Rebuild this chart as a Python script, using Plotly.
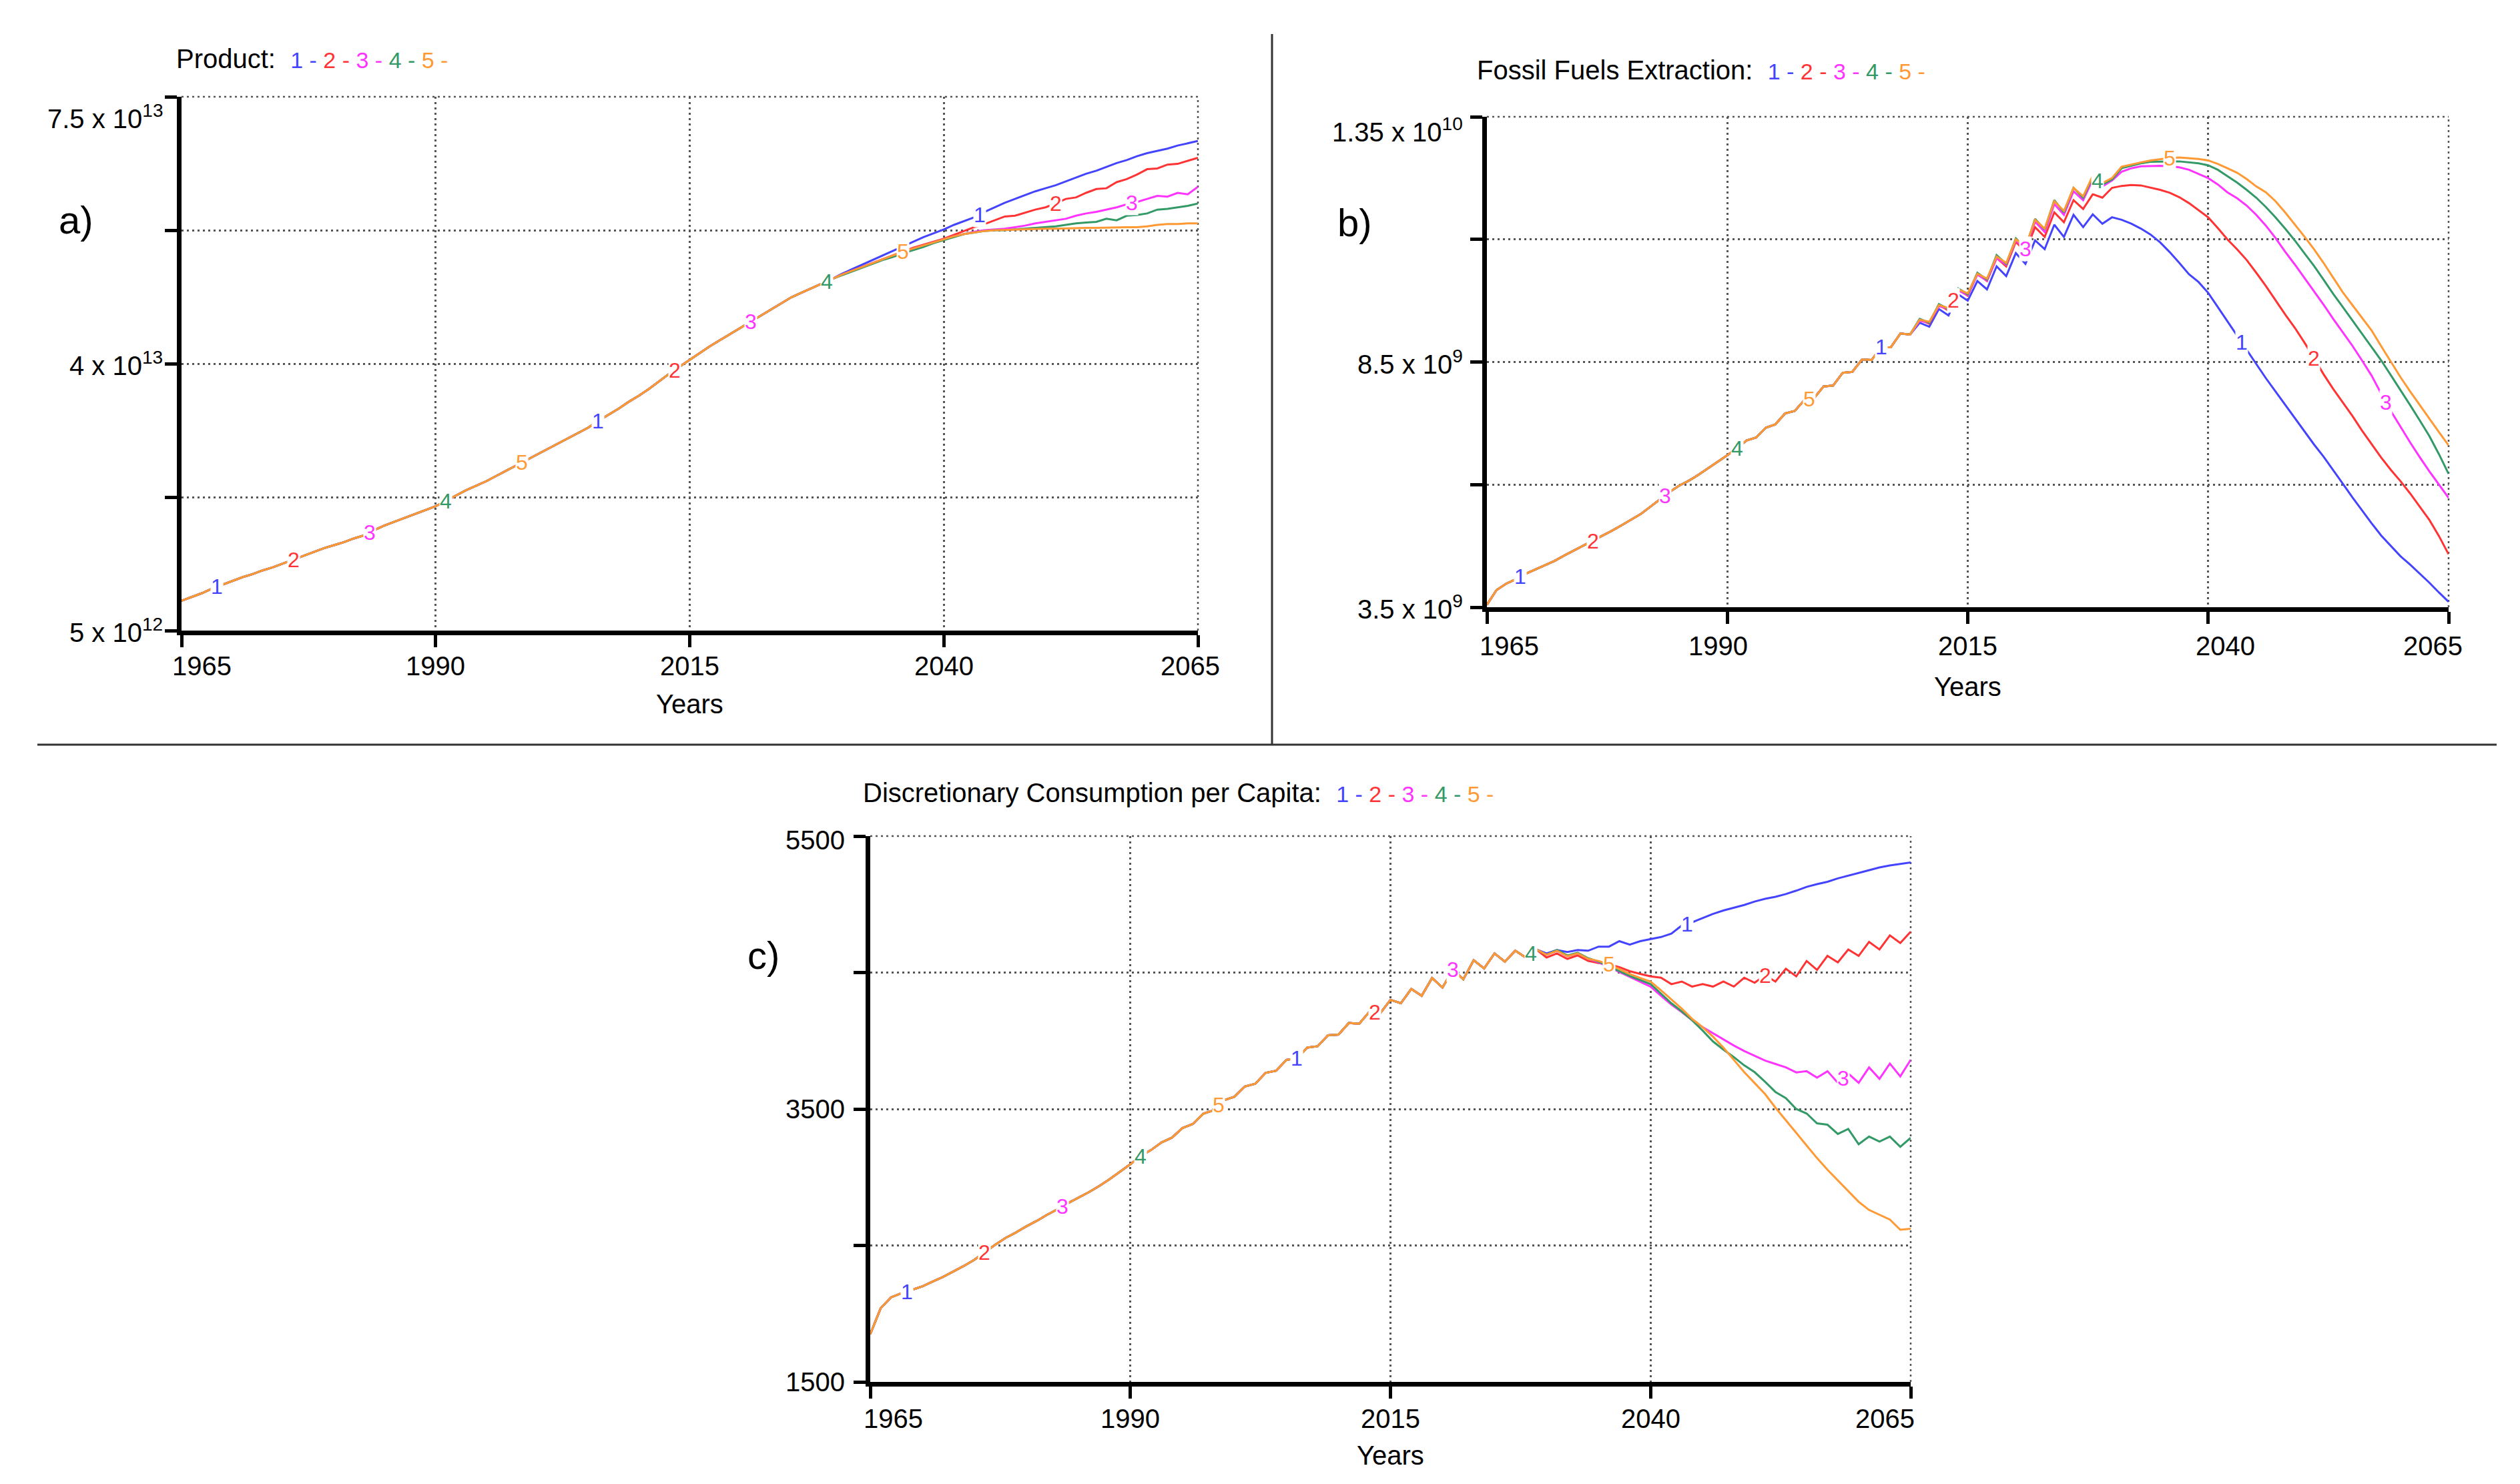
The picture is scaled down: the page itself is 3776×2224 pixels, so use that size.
import numpy as np
import plotly.graph_objects as go

YEARS = list(range(1965, 2066))
SERIES = ["1", "2", "3", "4", "5"]
COLORS = ["#4444ff", "#ff3333", "#ff33ff", "#339966", "#ff9933"]
X_TICKS = [1965, 1990, 2015, 2040, 2065]

# ---------------- Panel a: Product (units of 1e13), common 1965-2029 ----------------
A_COMMON = [0.89, 0.94, 0.99, 1.05, 1.10, 1.15, 1.20, 1.24, 1.29, 1.33,
            1.38, 1.43, 1.48, 1.53, 1.58, 1.62, 1.66, 1.71, 1.75, 1.82,
            1.88, 1.93, 1.98, 2.03, 2.08, 2.13, 2.20, 2.27, 2.34, 2.40,
            2.46, 2.53, 2.60, 2.67, 2.74, 2.81, 2.88, 2.95, 3.02, 3.09,
            3.16, 3.25, 3.33, 3.41, 3.50, 3.58, 3.67, 3.77, 3.87, 3.96,
            4.05, 4.14, 4.23, 4.31, 4.39, 4.47, 4.55, 4.63, 4.71, 4.79,
            4.87, 4.93, 4.99, 5.05, 5.11]
# 2030-2065 per run
A_TAIL_1 = [5.18, 5.24, 5.30, 5.36, 5.42, 5.48, 5.54, 5.60, 5.66, 5.71,
            5.76, 5.82, 5.87, 5.92, 5.99, 6.05, 6.11, 6.16, 6.21, 6.26,
            6.30, 6.34, 6.39, 6.44, 6.49, 6.53, 6.58, 6.63, 6.67, 6.72,
            6.76, 6.79, 6.82, 6.86, 6.89, 6.92]
A_TAIL_2 = [5.17, 5.22, 5.27, 5.32, 5.37, 5.42, 5.47, 5.52, 5.56, 5.60,
            5.64, 5.69, 5.74, 5.79, 5.83, 5.88, 5.93, 5.94, 5.98, 6.02,
            6.05, 6.10, 6.16, 6.18, 6.24, 6.29, 6.30, 6.38, 6.42, 6.48,
            6.55, 6.56, 6.61, 6.62, 6.66, 6.70]
A_TAIL_3 = [5.17, 5.22, 5.27, 5.32, 5.37, 5.42, 5.47, 5.51, 5.55, 5.59,
            5.63, 5.67, 5.70, 5.73, 5.75, 5.76, 5.77, 5.79, 5.81, 5.84,
            5.86, 5.88, 5.90, 5.94, 5.97, 5.99, 6.02, 6.05, 6.09, 6.12,
            6.16, 6.20, 6.19, 6.24, 6.22, 6.32]
A_TAIL_4 = [5.16, 5.21, 5.26, 5.31, 5.36, 5.40, 5.45, 5.49, 5.53, 5.58,
            5.62, 5.66, 5.70, 5.72, 5.74, 5.75, 5.75, 5.76, 5.77, 5.78,
            5.79, 5.80, 5.82, 5.84, 5.85, 5.86, 5.90, 5.88, 5.94, 5.95,
            5.97, 6.02, 6.03, 6.05, 6.07, 6.10]
A_TAIL_5 = [5.17, 5.22, 5.27, 5.32, 5.37, 5.42, 5.47, 5.51, 5.55, 5.59,
            5.63, 5.67, 5.70, 5.72, 5.74, 5.75, 5.755, 5.76, 5.76, 5.765,
            5.77, 5.77, 5.775, 5.78, 5.78, 5.78, 5.785, 5.79, 5.79, 5.79,
            5.80, 5.82, 5.83, 5.83, 5.84, 5.84]

# ---------------- Panel b: Fossil Fuels Extraction (units of 1e9), common 1965-2009 ----------------
B_COMMON = [3.55, 3.85, 3.98, 4.07, 4.18, 4.27, 4.35, 4.44, 4.55, 4.65,
            4.75, 4.85, 4.95, 5.06, 5.17, 5.28, 5.40, 5.55, 5.70, 5.85,
            5.98, 6.08, 6.20, 6.33, 6.46, 6.60, 6.74, 6.90, 6.96, 7.16,
            7.23, 7.45, 7.50, 7.72, 7.76, 8.00, 8.02, 8.28, 8.30, 8.55,
            8.54, 8.80, 8.80, 9.08, 9.06]
# 2010-2065 per run
B_TAIL_1 = [9.30, 9.22, 9.58, 9.45, 9.88, 9.75, 10.15, 9.98, 10.45, 10.25,
            10.72, 10.50, 10.98, 10.80, 11.30, 11.05, 11.50, 11.25, 11.51, 11.32,
            11.45, 11.40, 11.32, 11.22, 11.10, 10.94, 10.74, 10.52, 10.29, 10.13,
            9.91, 9.62, 9.33, 9.04, 8.75, 8.46, 8.17, 7.90, 7.63, 7.35,
            7.08, 6.82, 6.57, 6.30, 6.02, 5.74, 5.47, 5.21, 4.96, 4.75,
            4.54, 4.37, 4.19, 4.00, 3.80, 3.61]
B_TAIL_2 = [9.36, 9.28, 9.66, 9.55, 9.98, 9.85, 10.30, 10.15, 10.62, 10.45,
            10.95, 10.75, 11.25, 11.05, 11.55, 11.35, 11.80, 11.62, 11.92, 11.85,
            12.05, 12.09, 12.11, 12.10, 12.06, 12.01, 11.95, 11.86, 11.74, 11.60,
            11.45, 11.23, 11.00, 10.80, 10.58, 10.32, 10.05, 9.76, 9.47, 9.20,
            8.90, 8.58, 8.25, 7.95, 7.67, 7.40, 7.10, 6.82, 6.55, 6.30,
            6.07, 5.82, 5.55, 5.28, 4.95, 4.58]
B_TAIL_3 = [9.34, 9.30, 9.64, 9.58, 9.96, 9.86, 10.28, 10.16, 10.62, 10.48,
            10.98, 10.80, 11.36, 11.15, 11.72, 11.50, 11.98, 11.80, 12.22, 12.08,
            12.20, 12.38, 12.45, 12.49, 12.50, 12.50, 12.49, 12.47, 12.42, 12.34,
            12.25, 12.12, 11.96, 11.84, 11.69, 11.50, 11.28, 11.03, 10.75, 10.49,
            10.22, 9.95, 9.67, 9.38, 9.10, 8.83, 8.53, 8.22, 7.85, 7.50,
            7.18, 6.86, 6.56, 6.27, 6.00, 5.73]
B_TAIL_4 = [9.38, 9.30, 9.68, 9.58, 10.00, 9.88, 10.32, 10.18, 10.68, 10.50,
            11.02, 10.82, 11.42, 11.20, 11.80, 11.55, 12.05, 11.85, 12.28, 12.12,
            12.22, 12.45, 12.50, 12.55, 12.58, 12.59, 12.59, 12.59, 12.57, 12.55,
            12.51, 12.42, 12.29, 12.16, 12.01, 11.85, 11.66, 11.45, 11.22, 10.98,
            10.72, 10.46, 10.18, 9.89, 9.62, 9.35, 9.08, 8.81, 8.53, 8.23,
            7.93, 7.62, 7.31, 6.99, 6.62, 6.22]
B_TAIL_5 = [9.36, 9.32, 9.66, 9.60, 9.98, 9.90, 10.30, 10.20, 10.65, 10.52,
            11.00, 10.85, 11.40, 11.22, 11.78, 11.58, 12.05, 11.88, 12.30, 12.15,
            12.25, 12.48, 12.53, 12.57, 12.61, 12.64, 12.66, 12.67, 12.66, 12.64,
            12.61, 12.54, 12.45, 12.36, 12.23, 12.08, 11.96, 11.78, 11.55, 11.31,
            11.06, 10.80, 10.52, 10.22, 9.92, 9.66, 9.40, 9.14, 8.82, 8.50,
            8.19, 7.90, 7.62, 7.35, 7.07, 6.80]

# ---------------- Panel c: Discretionary Consumption per Capita, common 1965-2029 ----------------
C_COMMON = [1850, 2040, 2120, 2150, 2175, 2200, 2235, 2270, 2310, 2350,
            2395, 2450, 2505, 2555, 2595, 2640, 2680, 2725, 2765, 2810,
            2850, 2890, 2935, 2985, 3040, 3095, 3155, 3200, 3255, 3290,
            3360, 3390, 3465, 3490, 3565, 3590, 3665, 3685, 3765, 3780,
            3860, 3870, 3950, 3960, 4040, 4045, 4130, 4125, 4215, 4200,
            4300, 4275, 4380, 4330, 4460, 4390, 4520, 4450, 4590, 4530,
            4640, 4580, 4660, 4610, 4670]
# 2030-2065 per run
C_TAIL_1 = [4640, 4665, 4650, 4665, 4660, 4690, 4690, 4730, 4705, 4730,
            4745, 4760, 4785, 4845, 4868, 4900, 4930, 4955, 4975, 4995,
            5020, 5040, 5055, 5075, 5100, 5128, 5148, 5165, 5190, 5210,
            5230, 5250, 5270, 5285, 5295, 5307]
C_TAIL_2 = [4610, 4640, 4600, 4625, 4585, 4570, 4560, 4540, 4510, 4490,
            4472, 4462, 4415, 4434, 4397, 4415, 4397, 4434, 4397, 4462,
            4425, 4480, 4434, 4528, 4472, 4585, 4519, 4622, 4575, 4669,
            4622, 4725, 4669, 4772, 4716, 4800]
C_TAIL_3 = [4630, 4660, 4620, 4640, 4600, 4575, 4540, 4505, 4470, 4435,
            4397, 4330, 4265, 4210, 4150, 4100, 4055, 4010, 3965, 3925,
            3890, 3855, 3830, 3805, 3768, 3777, 3730, 3777, 3692, 3760,
            3692, 3805, 3721, 3833, 3739, 3861]
C_TAIL_4 = [4630, 4665, 4625, 4645, 4605, 4580, 4545, 4510, 4475, 4445,
            4415, 4345, 4275, 4215, 4150, 4075, 3995, 3935, 3880, 3820,
            3770, 3700, 3625, 3580, 3500, 3467, 3395, 3385, 3317, 3354,
            3242, 3298, 3261, 3298, 3223, 3289]
C_TAIL_5 = [4630, 4660, 4620, 4640, 4600, 4585, 4560, 4525, 4490, 4460,
            4434, 4370, 4303, 4235, 4160, 4100, 4030, 3950, 3860, 3770,
            3690, 3610, 3510, 3420, 3325, 3232, 3140, 3055, 2975, 2895,
            2820, 2760, 2725, 2690, 2615, 2622]

A_RUNS = [[v * 1e13 for v in A_COMMON + t] for t in (A_TAIL_1, A_TAIL_2, A_TAIL_3, A_TAIL_4, A_TAIL_5)]
B_RUNS = [[v * 1e9 for v in B_COMMON + t] for t in (B_TAIL_1, B_TAIL_2, B_TAIL_3, B_TAIL_4, B_TAIL_5)]
C_RUNS = [C_COMMON + t for t in (C_TAIL_1, C_TAIL_2, C_TAIL_3, C_TAIL_4, C_TAIL_5)]

# Years where the run numbers are written on the curves (cycling 1..5)
LABEL_YEARS = [1968.5, 1976, 1983.5, 1991, 1998.5, 2006, 2013.5, 2021, 2028.5, 2036, 2043.5, 2051, 2058.5]

A_YTICKS = [5e12, 2.25e13, 4e13, 5.75e13, 7.5e13]
A_YLABELS = ["5 x 10<sup>12</sup>", "", "4 x 10<sup>13</sup>", "", "7.5 x 10<sup>13</sup>"]
B_YTICKS = [3.5e9, 6e9, 8.5e9, 11e9, 13.5e9]
B_YLABELS = ["3.5 x 10<sup>9</sup>", "", "8.5 x 10<sup>9</sup>", "", "1.35 x 10<sup>10</sup>"]
C_YTICKS = [1500, 2500, 3500, 4500, 5500]
C_YLABELS = ["1500", "", "3500", "", "5500"]

TITLES = ["Product:", "Fossil Fuels Extraction:", "Discretionary Consumption per Capita:"]
PANEL_TAGS = ["a)", "b)", "c)"]

W, H = 3776, 2224
FONT = "Liberation Sans, Arial, sans-serif"
GRID_COLOR = "#555555"
GRID_DASH = "3px,5px"

# plot-area pixel boxes (left, right, top, bottom)
BOXES = [(264, 1787, 137, 937), (2220, 3661, 167, 902), (1296, 2855, 1245, 2063)]
XLAB_SHIFT = [[30, 0, 0, 0, -12], [33, -14, 0, 26, -24], [34, 0, 0, 0, -39]]
YLAB_TOPSHIFT = [-30, -20, -6]
YLAB_XSHIFT = [-26, -34, -36]
XLAB_DY = [53, 58, 55]
YEARS_DY = [110, 119, 110]
TITLE_POS = [(254, 80), (2203, 97), (1283, 1180)]
TAG_POS = [(106, 321), (2022, 326), (1136, 1423)]

fig = go.Figure()
annotations = []
shapes = []
panels = [(A_RUNS, A_YTICKS, A_YLABELS), (B_RUNS, B_YTICKS, B_YLABELS), (C_RUNS, C_YTICKS, C_YLABELS)]

for p, (runs, yt, yl) in enumerate(panels):
    sfx = "" if p == 0 else str(p + 1)
    xa, ya = "x" + sfx, "y" + sfx
    for s, vals in enumerate(runs):
        fig.add_trace(go.Scatter(x=YEARS, y=vals, mode="lines", xaxis=xa, yaxis=ya,
                                 line=dict(color=COLORS[s], width=3), showlegend=False,
                                 hoverinfo="skip"))
    l, r, t, b = BOXES[p]
    axis_common = dict(showline=True, linewidth=7, linecolor="black", ticks="outside",
                       ticklen=18, tickwidth=5, tickcolor="black", showticklabels=False,
                       showgrid=True, gridcolor=GRID_COLOR, gridwidth=2.5, griddash=GRID_DASH,
                       zeroline=False, fixedrange=True, layer="above traces")
    fig.layout["xaxis" + sfx] = dict(axis_common, domain=[l / W, r / W], range=[1965, 2065],
                                     tickvals=X_TICKS, anchor=ya)
    fig.layout["yaxis" + sfx] = dict(axis_common, domain=[1 - b / H, 1 - t / H],
                                     range=[yt[0], yt[-1]], tickvals=yt, anchor=xa)
    # dotted top and right frame (grid lines at the range ends)
    shapes.append(dict(type="line", xref=xa + " domain", yref=ya + " domain", x0=0, x1=1, y0=1, y1=1,
                       line=dict(color=GRID_COLOR, width=2.5, dash=GRID_DASH), layer="below"))
    shapes.append(dict(type="line", xref=xa + " domain", yref=ya + " domain", x0=1, x1=1, y0=0, y1=1,
                       line=dict(color=GRID_COLOR, width=2.5, dash=GRID_DASH), layer="below"))
    # x tick labels
    for i, xv in enumerate(X_TICKS):
        annotations.append(dict(x=xv, y=0, xref=xa, yref=ya + " domain", text=str(xv),
                                showarrow=False, xanchor="center", yanchor="middle",
                                xshift=XLAB_SHIFT[p][i], yshift=-XLAB_DY[p],
                                font=dict(family=FONT, size=40, color="black")))
    # y tick labels
    for i, (yv, txt) in enumerate(zip(yt, yl)):
        if not txt:
            continue
        annotations.append(dict(x=1965, y=yv, xref=xa, yref=ya, text=txt, showarrow=False,
                                xanchor="right", yanchor="middle", xshift=YLAB_XSHIFT[p],
                                yshift=YLAB_TOPSHIFT[p] if i == len(yt) - 1 else 0,
                                font=dict(family=FONT, size=40, color="black")))
    # axis title
    annotations.append(dict(x=2015, y=0, xref=xa, yref=ya + " domain", text="Years",
                            showarrow=False, xanchor="center", yanchor="middle",
                            yshift=-YEARS_DY[p], font=dict(family=FONT, size=40, color="black")))
    # title with run legend
    legend = " ".join(f"<span style='color:{COLORS[s]}'>{SERIES[s]} -</span>" for s in range(5))
    tx, ty = TITLE_POS[p]
    annotations.append(dict(x=tx / W, y=1 - ty / H, xref="paper", yref="paper",
                            text=f"{TITLES[p]}  <span style='font-size:34px'>{legend}</span>",
                            showarrow=False, xanchor="left", yanchor="middle",
                            font=dict(family=FONT, size=40, color="black")))
    gx, gy = TAG_POS[p]
    annotations.append(dict(x=gx / W, y=1 - gy / H, xref="paper", yref="paper", text=PANEL_TAGS[p],
                            showarrow=False, xanchor="center", yanchor="middle",
                            font=dict(family=FONT, size=58, color="black")))
    # run numbers written on the curves
    for k, ly in enumerate(LABEL_YEARS):
        s = k % 5
        yv = float(np.interp(ly, YEARS, runs[s]))
        annotations.append(dict(x=ly, y=yv, xref=xa, yref=ya, text=SERIES[s], showarrow=False,
                                xanchor="center", yanchor="middle", bgcolor="white", borderpad=0,
                                font=dict(family=FONT, size=32, color=COLORS[s])))

shapes += [
    dict(type="line", xref="paper", yref="paper", x0=1898 / W, x1=1898 / W,
         y0=1 - 43 / H, y1=1 - 1108 / H, line=dict(color="#333333", width=3)),
    dict(type="line", xref="paper", yref="paper", x0=48 / W, x1=3733 / W,
         y0=1 - 1108 / H, y1=1 - 1108 / H, line=dict(color="#333333", width=3)),
]

fig.update_layout(width=W, height=H, autosize=False, margin=dict(l=0, r=0, t=0, b=0),
                  paper_bgcolor="white", plot_bgcolor="white", annotations=annotations,
                  shapes=shapes, font=dict(family=FONT))
fig.write_html("out.html")
